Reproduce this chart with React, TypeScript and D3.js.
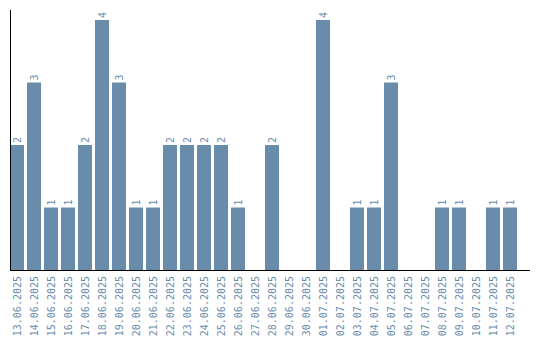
import React from "react";
import * as d3 from "d3";

const dates = [
  "13.06.2025","14.06.2025","15.06.2025","16.06.2025","17.06.2025","18.06.2025",
  "19.06.2025","20.06.2025","21.06.2025","22.06.2025","23.06.2025","24.06.2025",
  "25.06.2025","26.06.2025","27.06.2025","28.06.2025","29.06.2025","30.06.2025",
  "01.07.2025","02.07.2025","03.07.2025","04.07.2025","05.07.2025","06.07.2025",
  "07.07.2025","08.07.2025","09.07.2025","10.07.2025","11.07.2025","12.07.2025",
];
const counts = [2,3,1,1,2,4,3,1,1,2,2,2,2,1,0,2,0,0,4,0,1,1,3,0,0,1,1,0,1,1];

const W = 540, H = 340;
const left = 10, baseY = 270, topY = 20;
const barColor = "#6a8cab";
const textColor = "#6a8cab";
const font = "'DejaVu Sans Mono', monospace";

export default function App() {
  const x = d3.scaleBand<string>().domain(dates).range([left, left + 17 * dates.length - 3]).paddingInner(3 / 17).paddingOuter(0);
  const y = d3.scaleLinear().domain([0, 4]).range([baseY, topY]);
  const bw = x.bandwidth();
  return (
    <svg width={W} height={H} style={{ position: "absolute", left: 0, top: 0 }}>
      <rect width={W} height={H} fill="#fff" />
      {dates.map((d, i) => {
        const v = counts[i];
        if (!v) return null;
        const x0 = x(d)!;
        return <rect key={d} x={x0} y={y(v)} width={bw} height={baseY - y(v)} fill={barColor} />;
      })}
      {dates.map((d, i) => {
        const v = counts[i];
        if (!v) return null;
        const cx = x(d)! + bw / 2 + 3.5;
        const ty = y(v) - 2;
        return (
          <text key={"v" + d} transform={`translate(${cx},${ty}) rotate(-90)`} fontFamily={font} fontSize={10} fill={textColor}>
            {v}
          </text>
        );
      })}
      {dates.map((d) => {
        const cx = x(d)! + bw / 2 + 3.5;
        return (
          <text key={"l" + d} transform={`translate(${cx},${baseY + 6}) rotate(-90)`} textAnchor="end" fontFamily={font} fontSize={10} fill={textColor}>
            {d}
          </text>
        );
      })}
      <line x1={left + 0.5} x2={left + 0.5} y1={10} y2={baseY} stroke="#000" strokeWidth={1} />
      <line x1={left} x2={530} y1={baseY + 0.5} y2={baseY + 0.5} stroke="#000" strokeWidth={1} />
    </svg>
  );
}
